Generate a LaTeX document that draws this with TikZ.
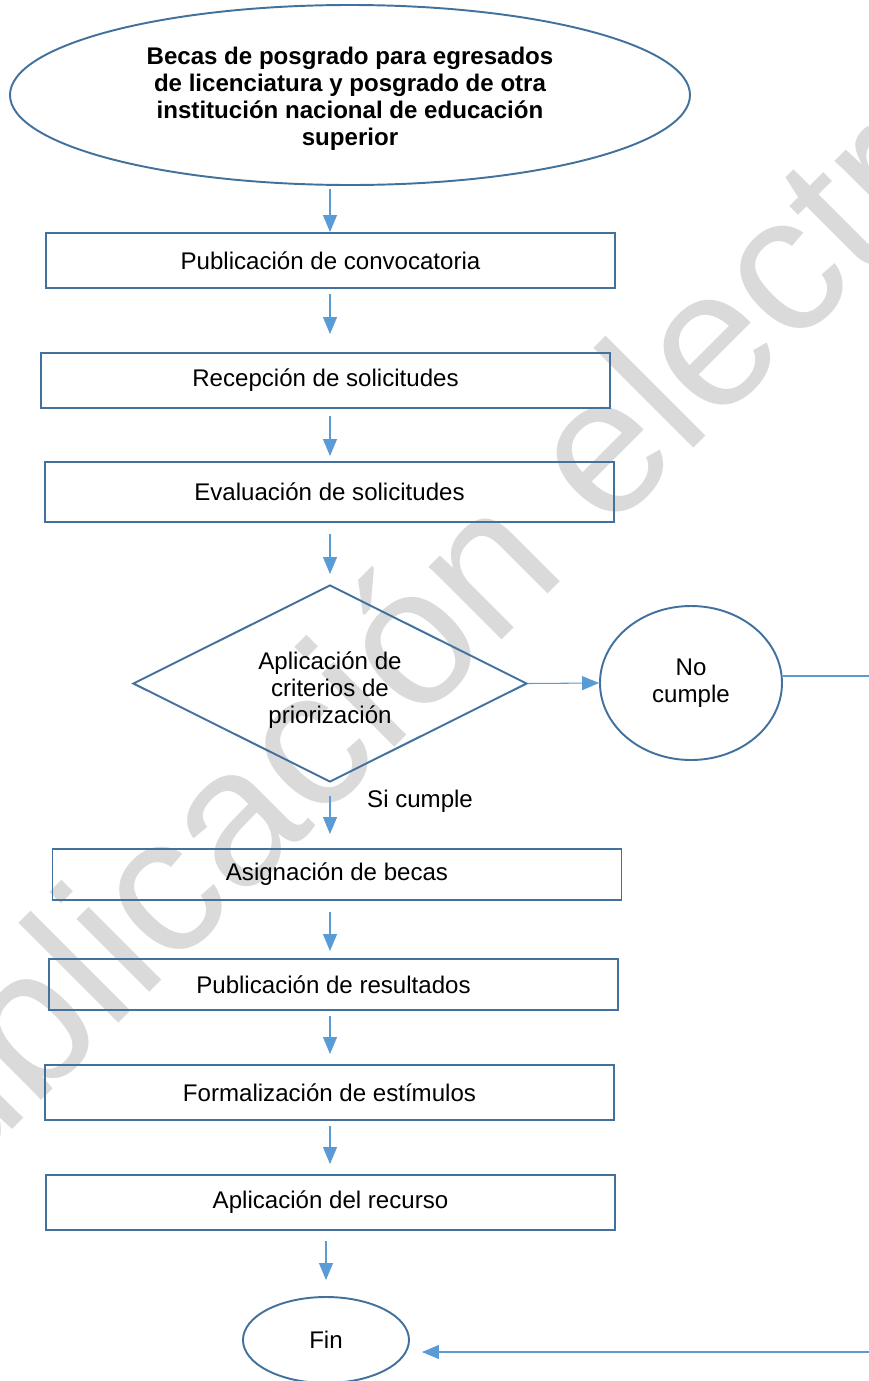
\documentclass[tikz,border=0pt]{standalone}
\usepackage{fontspec}
\setmainfont{Liberation Sans}
\usepackage{tikz}
\usetikzlibrary{positioning,shapes.geometric,arrows.meta}
\definecolor{borde}{HTML}{41719C}
\definecolor{linea}{HTML}{5B9BD5}
\definecolor{marca}{HTML}{DADADA}

\begin{document}
\begin{tikzpicture}[
	caja/.style={shape=rectangle,draw=borde,line width=1.1pt,minimum width=11.38cm,minimum height=1.1cm,inner sep=0pt,texto},
	flecha/.style={draw=linea,line width=0.6pt,-{Triangle[length=0.34cm,width=0.28cm]}},
	texto/.style={font=\fontsize{13.7}{15.4}\selectfont,align=center}
	]
	
	\useasboundingbox (0,0) rectangle (17.38,-27.62);
	\clip (0,0) rectangle (17.38,-27.62);
	
	% marca de agua
	\node[text=marca,rotate=45,anchor=base west,font=\fontsize{111}{111}\selectfont,inner sep=0pt] (agua) at (-2.72,-25.56) {Publicación electrónica};
	
	\node[shape=ellipse,draw=borde,line width=1.1pt,minimum width=13.6cm,minimum height=3.6cm,inner sep=0pt,texto,font=\fontsize{13.7}{15.4}\selectfont\bfseries,text height=60.8pt,text depth=2.9pt] (inicio) at (7.0,-1.9) {Becas de posgrado para egresados\\de licenciatura y posgrado de otra\\institución nacional de educación\\superior};
	\node[caja] (pub) at (6.61,-5.21) {Publicación de convocatoria};
	\node[caja] (rec) at (6.51,-7.61) {Recepción de solicitudes};
	\node[caja,minimum height=1.2cm] (eva) at (6.59,-9.84) {Evaluación de solicitudes};
	\node[shape=diamond,draw=borde,line width=1.1pt,minimum width=7.88cm,minimum height=3.94cm,aspect=2,inner sep=0pt,texto,text height=48.9pt,text depth=2.9pt] (crit) at (6.6,-13.67) {Aplicación de\\criterios de\\priorización};
	\node[shape=ellipse,draw=borde,line width=1.1pt,minimum width=3.64cm,minimum height=3.08cm,inner sep=0pt,texto] (nocumple) at (13.82,-13.66) {No\\cumple};
	\node[texto,anchor=west] (sicumple) at (7.22,-16.02) {Si cumple};
	\node[caja,minimum height=1.02cm] (asig) at (6.74,-17.49) {Asignación de becas};
	\node[caja,minimum height=1.02cm] (pubres) at (6.67,-19.69) {Publicación de resultados};
	\node[caja] (form) at (6.59,-21.85) {Formalización de estímulos};
	\node[caja] (aplrec) at (6.61,-24.05) {Aplicación del recurso};
	\node[shape=ellipse,draw=borde,line width=1.1pt,minimum width=3.32cm,minimum height=1.72cm,inner sep=0pt,texto] (fin) at (6.52,-26.8) {Fin};
	\coordinate (vuelta) at (18.5,-27.04);
	
	\path (inicio.south -| crit) edge[flecha,shorten <=0.06cm] (pub.north -| crit);
	\path (pub.south -| crit) edge[flecha,shorten <=0.1cm,shorten >=0.36cm] (rec.north -| crit);
	\path (rec.south -| crit) edge[flecha,shorten <=0.14cm,shorten >=0.1cm] (eva.north -| crit);
	\path (eva.south -| crit) edge[flecha,shorten <=0.22cm,shorten >=0.2cm] (crit.north);
	\path (crit.east) edge[flecha] (nocumple.west);
	\path (crit.south) edge[flecha,shorten <=0.26cm,shorten >=0.28cm] (asig.north -| crit);
	\path (asig.south -| crit) edge[flecha,shorten <=0.22cm,shorten >=0.14cm] (pubres.north -| crit);
	\path (pubres.south -| crit) edge[flecha,shorten <=0.1cm,shorten >=0.2cm] (form.north -| crit);
	\path (form.south -| crit) edge[flecha,shorten <=0.1cm,shorten >=0.2cm] (aplrec.north -| crit);
	\path (aplrec.south -| fin) edge[flecha,shorten <=0.2cm,shorten >=0.32cm] (fin.north);
	\draw [flecha,shorten >=0.24cm] ([yshift=0.14cm]nocumple.east) -| (vuelta) -- (vuelta -| fin.east);
	
\end{tikzpicture}
\end{document}
